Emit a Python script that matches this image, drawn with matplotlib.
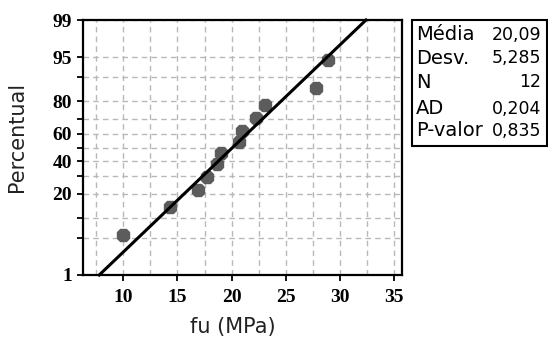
import numpy as np
import matplotlib
matplotlib.use('Agg')
import matplotlib.pyplot as plt
from matplotlib.patches import Rectangle
from statistics import NormalDist

# data
fu = [9.94, 14.30, 16.91, 17.69, 18.61, 18.98, 20.69, 21.00, 22.29, 23.06, 27.76, 28.89]
pct = [5.6, 13.7, 21.8, 29.8, 37.9, 46.0, 54.0, 62.1, 70.2, 78.2, 86.3, 94.4]
media, desv = 20.09, 5.285

stat_labels = ['Média', 'Desv.', 'N', 'AD', 'P-valor']
stat_values = ['20,09', '5,285', '12', '0,204', '0,835']

yticks = [1, 5, 10, 20, 30, 40, 50, 60, 70, 80, 90, 95, 99]
ytick_labels = ['1', '', '', '20', '', '40', '', '60', '', '80', '', '95', '99']
xticks = [10, 15, 20, 25, 30, 35]

nd = NormalDist()
_fwd = np.vectorize(lambda v: nd.inv_cdf(v / 100), otypes=[float])
_inv = np.vectorize(lambda v: 100 * nd.cdf(v), otypes=[float])


def fwd(p):
    return _fwd(np.clip(np.asarray(p, float), 1e-6, 100 - 1e-6))


def inv(z):
    return _inv(np.asarray(z, float))


fig = plt.figure(figsize=(5.48, 3.38), dpi=100)
ax = fig.add_axes([0.1515, 0.1864, 0.582, 0.7544])
ax.set_yscale('function', functions=(fwd, inv))

# fitted normal line, 1% .. 99%
pfit = [1, 99]
xfit = [media + desv * nd.inv_cdf(p / 100) for p in pfit]
ax.plot(xfit, pfit, color='black', lw=2.2, zorder=4, clip_on=False)
ax.plot(fu, pct, ls='none', marker='8', ms=9.5, color='#5c5c5c', zorder=3)

ax.set_xlim(6.3, 35.7)
ax.set_ylim(1, 99)
ax.set_yticks(yticks)
ax.set_yticklabels(ytick_labels)
ax.set_xticks(xticks)
ax.set_xticks(np.arange(7.5, 35.1, 2.5), minor=True)
ax.yaxis.set_minor_locator(matplotlib.ticker.NullLocator())

ax.grid(True, which='both', axis='x', color='#b8b8b8', ls=(0, (4, 3)), lw=1)
ax.grid(True, axis='y', color='#b8b8b8', ls=(0, (4, 3)), lw=1)
ax.tick_params(axis='x', which='minor', length=0)
ax.tick_params(axis='both', which='major', length=4, width=1.3, direction='out')
ax.tick_params(axis='x', pad=6)
ax.tick_params(axis='y', pad=4)
for lab in ax.get_xticklabels() + ax.get_yticklabels():
    lab.set_fontfamily('Liberation Serif')
    lab.set_fontweight('bold')
    lab.set_fontsize(14)
for s in ax.spines.values():
    s.set_linewidth(1.6)

ax.set_xlabel('fu (MPa)', fontsize=15, color='#222222')
ax.set_ylabel('Percentual', fontsize=15, color='#222222')
ax.xaxis.set_label_coords(0.469, -0.165)
ax.yaxis.set_label_coords(-0.175, 0.54)

# stats box
fig.patches.append(Rectangle((412 / 548, 1 - 146 / 338), 135 / 548, 126 / 338,
                             transform=fig.transFigure, fill=False,
                             edgecolor='black', lw=1.5))
rows_y = [35, 58, 82, 109, 131]
for lab, val, yp in zip(stat_labels, stat_values, rows_y):
    fig.text(416 / 548, 1 - yp / 338, lab, fontsize=14, va='center', ha='left')
    fig.text(541 / 548, 1 - yp / 338, val, fontsize=12.5, va='center', ha='right')

fig.savefig('out.png', dpi=100)
